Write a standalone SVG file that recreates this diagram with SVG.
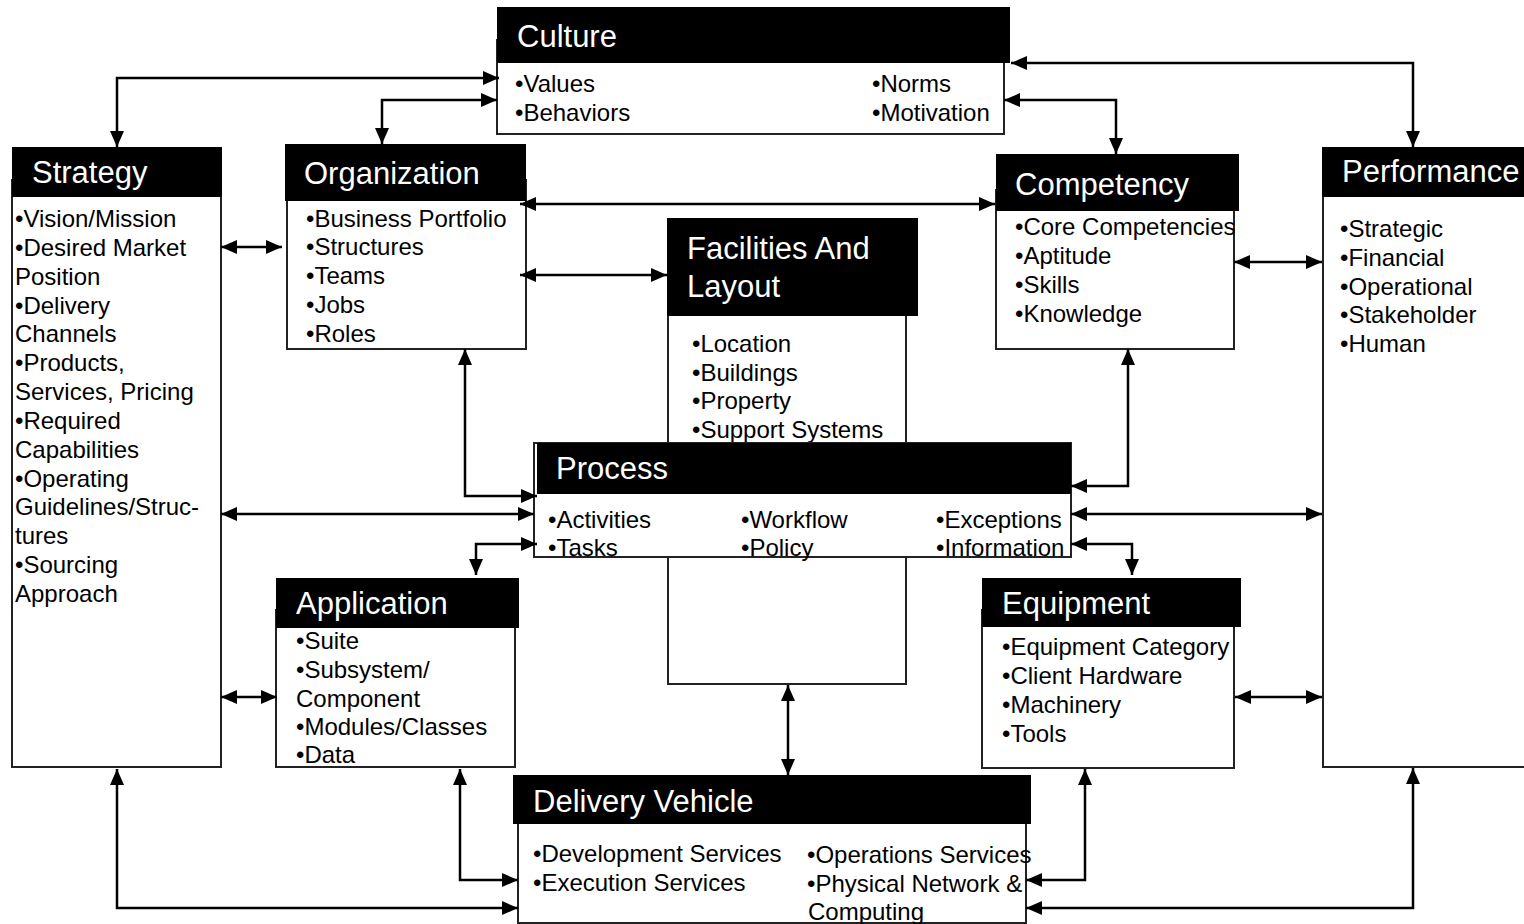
<svg xmlns="http://www.w3.org/2000/svg" width="1524" height="924" viewBox="0 0 1524 924">
  <style>
    text { font-family: "Liberation Sans", Arial, sans-serif; fill: #000; }
    .hd { fill: #000; }
    .bd { fill: #fff; stroke: #222; stroke-width: 2; }
    .title { font-size: 31px; fill: #fff; }
    .item { font-size: 24px; }
    .cn { fill: none; stroke: #000; stroke-width: 2.5; marker-start: url(#ah); marker-end: url(#ah); }
  </style>
  <defs>
    <marker id="ah" viewBox="0 0 16 14" refX="16" refY="7" markerWidth="16" markerHeight="14" markerUnits="userSpaceOnUse" orient="auto-start-reverse">
      <path d="M0,0 L16,7 L0,14 z" fill="#000"/>
    </marker>
  </defs>
  <rect width="1524" height="924" fill="#fff"/>

  <!-- Culture -->
  <g id="culture">
    <rect class="bd" x="497" y="40" width="507" height="94"/>
    <rect class="hd" x="497" y="7" width="513" height="56"/>
    <text class="title" x="517" y="47">Culture</text>
    <text class="item" x="515" y="92">•Values</text>
    <text class="item" x="515" y="121">•Behaviors</text>
    <text class="item" x="872" y="92">•Norms</text>
    <text class="item" x="872" y="121">•Motivation</text>
  </g>

  <!-- Strategy -->
  <g id="strategy">
    <rect class="bd" x="12" y="180" width="209" height="587"/>
    <rect class="hd" x="12" y="147" width="210" height="50"/>
    <text class="title" x="32" y="183">Strategy</text>
    <text class="item" x="15" y="227">•Vision/Mission</text>
    <text class="item" x="15" y="256">•Desired Market</text>
    <text class="item" x="15" y="285">Position</text>
    <text class="item" x="15" y="314">•Delivery</text>
    <text class="item" x="15" y="342">Channels</text>
    <text class="item" x="15" y="371">•Products,</text>
    <text class="item" x="15" y="400">Services, Pricing</text>
    <text class="item" x="15" y="429">•Required</text>
    <text class="item" x="15" y="458">Capabilities</text>
    <text class="item" x="15" y="487">•Operating</text>
    <text class="item" x="15" y="515">Guidelines/Struc-</text>
    <text class="item" x="15" y="544">tures</text>
    <text class="item" x="15" y="573">•Sourcing</text>
    <text class="item" x="15" y="602">Approach</text>
  </g>

  <!-- Organization -->
  <g id="organization">
    <rect class="bd" x="287" y="180" width="239" height="169"/>
    <rect class="hd" x="285" y="144" width="241" height="57"/>
    <text class="title" x="304" y="184">Organization</text>
    <text class="item" x="306" y="227">•Business Portfolio</text>
    <text class="item" x="306" y="255">•Structures</text>
    <text class="item" x="306" y="284">•Teams</text>
    <text class="item" x="306" y="313">•Jobs</text>
    <text class="item" x="306" y="342">•Roles</text>
  </g>

  <!-- Facilities And Layout -->
  <g id="facilities">
    <rect class="bd" x="668" y="290" width="238" height="394"/>
    <rect class="hd" x="667" y="218" width="251" height="98"/>
    <text class="title" x="687" y="259">Facilities And</text>
    <text class="title" x="687" y="297">Layout</text>
    <text class="item" x="692" y="352">•Location</text>
    <text class="item" x="692" y="381">•Buildings</text>
    <text class="item" x="692" y="409">•Property</text>
    <text class="item" x="692" y="438">•Support Systems</text>
  </g>

  <!-- Competency -->
  <g id="competency">
    <rect class="bd" x="996" y="190" width="238" height="159"/>
    <rect class="hd" x="996" y="154" width="243" height="57"/>
    <text class="title" x="1015" y="195">Competency</text>
    <text class="item" x="1015" y="235">•Core Competencies</text>
    <text class="item" x="1015" y="264">•Aptitude</text>
    <text class="item" x="1015" y="293">•Skills</text>
    <text class="item" x="1015" y="322">•Knowledge</text>
  </g>

  <!-- Performance -->
  <g id="performance">
    <rect class="bd" x="1323" y="180" width="240" height="587"/>
    <rect class="hd" x="1322" y="147" width="240" height="50"/>
    <text class="title" x="1342" y="182">Performance</text>
    <text class="item" x="1340" y="237">•Strategic</text>
    <text class="item" x="1340" y="266">•Financial</text>
    <text class="item" x="1340" y="295">•Operational</text>
    <text class="item" x="1340" y="323">•Stakeholder</text>
    <text class="item" x="1340" y="352">•Human</text>
  </g>

  <!-- Process -->
  <g id="process">
    <rect class="bd" x="534" y="443" width="537" height="114"/>
    <rect class="hd" x="537" y="443" width="534" height="51"/>
    <text class="title" x="556" y="479">Process</text>
    <text class="item" x="548" y="528">•Activities</text>
    <text class="item" x="548" y="556">•Tasks</text>
    <text class="item" x="741" y="528">•Workflow</text>
    <text class="item" x="741" y="556">•Policy</text>
    <text class="item" x="936" y="528">•Exceptions</text>
    <text class="item" x="936" y="556">•Information</text>
  </g>

  <!-- Application -->
  <g id="application">
    <rect class="bd" x="276" y="610" width="239" height="157"/>
    <rect class="hd" x="276" y="578" width="243" height="50"/>
    <text class="title" x="296" y="614">Application</text>
    <text class="item" x="296" y="649">•Suite</text>
    <text class="item" x="296" y="678">•Subsystem/</text>
    <text class="item" x="296" y="707">Component</text>
    <text class="item" x="296" y="735">•Modules/Classes</text>
    <text class="item" x="296" y="763">•Data</text>
  </g>

  <!-- Equipment -->
  <g id="equipment">
    <rect class="bd" x="982" y="610" width="252" height="158"/>
    <rect class="hd" x="982" y="578" width="259" height="49"/>
    <text class="title" x="1002" y="614">Equipment</text>
    <text class="item" x="1002" y="655">•Equipment Category</text>
    <text class="item" x="1002" y="684">•Client Hardware</text>
    <text class="item" x="1002" y="713">•Machinery</text>
    <text class="item" x="1002" y="742">•Tools</text>
  </g>

  <!-- Delivery Vehicle -->
  <g id="delivery">
    <rect class="bd" x="518" y="800" width="508" height="123"/>
    <rect class="hd" x="513" y="775" width="518" height="49"/>
    <text class="title" x="533" y="812">Delivery Vehicle</text>
    <text class="item" x="533" y="862">•Development Services</text>
    <text class="item" x="533" y="891">•Execution Services</text>
    <text class="item" x="807" y="863">•Operations Services</text>
    <text class="item" x="807" y="892">•Physical Network &amp;</text>
    <text class="item" x="808" y="920">Computing</text>
  </g>

  <!-- Connectors -->
  <g id="connectors">
    <path class="cn" d="M117,147 V78 H499"/>
    <path class="cn" d="M382,144 V100 H497"/>
    <path class="cn" d="M1011,63 H1413 V147"/>
    <path class="cn" d="M1004,100 H1116 V154"/>
    <path class="cn" d="M221,247 H282"/>
    <path class="cn" d="M520,204 H995"/>
    <path class="cn" d="M520,275 H667"/>
    <path class="cn" d="M1234,262 H1322"/>
    <path class="cn" d="M465,349 V496 H537"/>
    <path class="cn" d="M1128,349 V486 H1071"/>
    <path class="cn" d="M221,514 H534"/>
    <path class="cn" d="M1071,514 H1322"/>
    <path class="cn" d="M537,544 H476 V575"/>
    <path class="cn" d="M1071,544 H1132 V575"/>
    <path class="cn" d="M221,697 H277"/>
    <path class="cn" d="M1235,697 H1322"/>
    <path class="cn" d="M788,685 V775"/>
    <path class="cn" d="M460,769 V880 H518"/>
    <path class="cn" d="M117,769 V908 H518"/>
    <path class="cn" d="M1085,769 V880 H1026"/>
    <path class="cn" d="M1413,768 V908 H1026"/>
  </g>
</svg>
